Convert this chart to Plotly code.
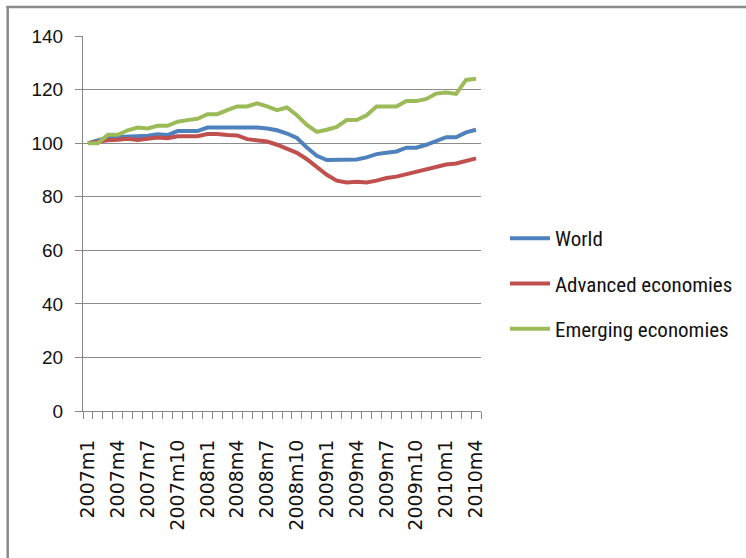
import plotly.graph_objects as go

months = [f"{y}m{m}" for y in (2007, 2008, 2009, 2010) for m in range(1, 13)][:40]
tick_labels = months[::3]

world = [100, 100.9, 102.1, 102.3, 102.5, 102.5, 102.8, 103.3, 103.0, 104.5,
         104.5, 104.5, 105.8, 105.8, 105.8, 105.8, 106.1, 105.8, 105.5, 104.8,
         103.6, 101.9, 98.4, 95.3, 93.7, 93.7, 93.7, 93.9, 94.7, 95.9,
         96.4, 96.9, 98.3, 98.3, 99.4, 101.0, 102.2, 102.2, 104.0, 105.0]
advanced = [100, 100.6, 101.1, 101.3, 101.6, 101.2, 101.6, 102.1, 101.8, 102.6,
            102.6, 102.6, 103.4, 103.4, 103.0, 102.9, 101.5, 101.1, 100.6, 99.4,
            97.8, 96.4, 94.0, 90.9, 88.2, 86.0, 85.3, 85.6, 85.3, 86.0,
            87.0, 87.5, 88.4, 89.1, 90.1, 90.9, 92.0, 92.4, 93.4, 94.3]
emerging = [100, 100, 103.1, 103.1, 104.8, 105.8, 105.5, 106.5, 106.5, 108.0,
            108.6, 109.1, 110.8, 110.8, 112.3, 113.7, 113.7, 114.9, 113.7, 112.3,
            113.3, 110.4, 106.8, 104.2, 105.0, 106.1, 108.6, 108.6, 110.4, 113.7,
            113.7, 113.7, 115.7, 115.7, 116.5, 118.5, 118.9, 118.4, 123.6, 124.0]

series_names = ["World", "Advanced economies", "Emerging economies"]
series_values = [world, advanced, emerging]
colors = ["#4F81BD", "#C0504D", "#9BBB59"]

idx = list(range(len(months)))

fig = go.Figure()
for name, vals, col in zip(series_names, series_values, colors):
    fig.add_trace(go.Scatter(x=idx, y=vals, mode="lines", name=name,
                             legendgroup=name,
                             line=dict(color=col, width=4),
                             customdata=months,
                             hovertemplate="%{customdata}: %{y}<extra>" + name + "</extra>"))

# figure is a bit wider than the 746px window (clipped) so the legend never
# pushes the plot margins
W, H = 790, 558
L, T = 83, 36
pw, ph = 398, 375
R, B = W - L - pw, H - T - ph

def px_x(x):
    return (x - L) / pw

def px_y(y):
    return (T + ph - y) / ph

fig.update_layout(
    width=W, height=H,
    margin=dict(l=L, r=R, t=T, b=B, pad=0),
    paper_bgcolor="white", plot_bgcolor="white",
    showlegend=True,
    legend=dict(x=px_x(505), y=px_y(218), xanchor="left", yanchor="top",
                itemwidth=40,
                font=dict(family="Liberation Sans Narrow, Arial Narrow, Roboto Condensed, sans-serif",
                          size=21, color="#111111"),
                tracegroupgap=15, bgcolor="rgba(0,0,0,0)"),
    xaxis=dict(range=[-0.5, len(months) - 0.5], tickmode="array",
               tickvals=idx[::3], ticktext=tick_labels, tickangle=-90,
               ticks="", showgrid=False, zeroline=False,
               showline=True, linecolor="#868686", linewidth=1,
               tickfont=dict(family="DejaVu Sans", size=19, color="#111111"),
               ticklabelstandoff=20,
               minor=dict(tickmode="array",
                          tickvals=[i - 0.5 for i in range(len(months) + 1)],
                          ticks="outside", ticklen=7, tickcolor="#868686",
                          tickwidth=1, showgrid=False)),
    yaxis=dict(range=[0, 140], tickmode="linear", tick0=0, dtick=20,
               ticks="outside", ticklen=7, tickcolor="#868686",
               showgrid=True, gridcolor="#8c8c8c", gridwidth=1,
               zeroline=False, showline=True, linecolor="#868686", linewidth=1,
               tickfont=dict(family="Liberation Sans", size=19, color="#111111"),
               ticklabelstandoff=8),
    shapes=[
        dict(type="line", xref="paper", yref="paper", layer="above",
             x0=px_x(6.5), x1=px_x(W), y0=px_y(7), y1=px_y(7),
             line=dict(color="#898989", width=2.5)),
        dict(type="line", xref="paper", yref="paper", layer="above",
             x0=px_x(7.7), x1=px_x(7.7), y0=px_y(6), y1=px_y(H),
             line=dict(color="#898989", width=2.5)),
    ],
)

fig.write_html("out.html",
               config={"displayModeBar": False},
               post_script="document.body.style.margin='0';"
                           "document.body.style.overflow='hidden';")
